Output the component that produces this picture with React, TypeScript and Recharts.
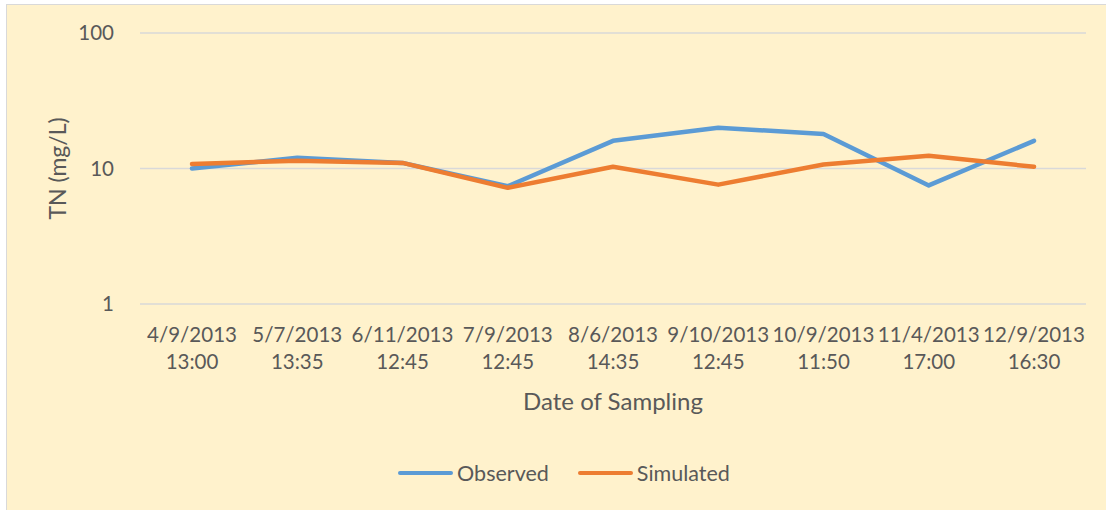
import { LineChart, Line, XAxis, YAxis, CartesianGrid, Label } from 'recharts';

const dates = ['4/9/2013', '5/7/2013', '6/11/2013', '7/9/2013', '8/6/2013', '9/10/2013', '10/9/2013', '11/4/2013', '12/9/2013'];
const times = ['13:00', '13:35', '12:45', '12:45', '14:35', '12:45', '11:50', '17:00', '16:30'];
const observed = [10.0, 12.0, 11.0, 7.4, 16.0, 20.0, 18.0, 7.5, 16.0];
const simulated = [10.8, 11.4, 11.0, 7.2, 10.3, 7.6, 10.7, 12.4, 10.3];
const yTicks = [1, 10, 100];

const BLUE = '#5B9BD5';
const ORANGE = '#ED7D31';
const TEXT = '#595959';
const FONT = 'Lato, "Open Sans", sans-serif';

const data = dates.map((d, i) => ({
  label: `${d}|${times[i]}`,
  observed: observed[i],
  simulated: simulated[i],
}));

function DateTick({ x, y, payload }: any) {
  const [d, t] = String(payload.value).split('|');
  return (
    <text x={x} y={y} textAnchor="middle" fill={TEXT} fontSize={20.5} fontFamily={FONT}>
      <tspan x={x} dy={30}>{d}</tspan>
      <tspan x={x} dy={27}>{t}</tspan>
    </text>
  );
}

function LegendRow() {
  const items = [
    { name: 'Observed', color: BLUE },
    { name: 'Simulated', color: ORANGE },
  ];
  return (
    <div style={{ position: 'absolute', top: 460, left: 0, width: 1128, display: 'flex', justifyContent: 'center', gap: 29, fontFamily: FONT, fontSize: 21.5, color: TEXT }}>
      {items.map((it) => (
        <div key={it.name} style={{ display: 'flex', alignItems: 'center' }}>
          <div style={{ width: 55, height: 4.5, borderRadius: 2, background: it.color, marginRight: 4 }} />
          <span>{it.name}</span>
        </div>
      ))}
    </div>
  );
}

export default function App() {
  return (
    <div style={{ position: 'absolute', left: 0, top: 0, width: 1106, height: 510, background: '#fff', overflow: 'hidden' }}>
      <div style={{ position: 'absolute', left: 6, top: 4, width: 1110, height: 520, background: '#FFF2CC', border: '1px solid #D9D9D9' }} />
      <div style={{ position: 'absolute', left: 0, top: 0 }}>
        <LineChart width={1106} height={510} data={data} margin={{ top: 33, right: 20, left: 0, bottom: 106 }}>
          <CartesianGrid vertical={false} stroke="#D9D9D9" strokeWidth={1.5} />
          <XAxis
            dataKey="label"
            axisLine={false}
            tickLine={false}
            interval={0}
            padding={{ left: 52, right: 52 }}
            height={100}
            tick={<DateTick />}
          >
            <Label value="Date of Sampling" position="insideBottom" offset={-6} fill={TEXT} fontSize={24} fontFamily={FONT} />
          </XAxis>
          <YAxis
            scale="log"
            domain={[1, 100]}
            ticks={yTicks}
            allowDataOverflow
            width={140}
            axisLine={false}
            tickLine={false}
            tick={{ fill: TEXT, fontSize: 20.5, fontFamily: FONT }}
            tickMargin={20}
          >
            <Label value="TN (mg/L)" angle={-90} position="insideLeft" offset={58} fill={TEXT} fontSize={23} fontFamily={FONT} style={{ textAnchor: 'middle' }} />
          </YAxis>
          <Line type="linear" dataKey="observed" stroke={BLUE} strokeWidth={4.5} dot={false} strokeLinecap="round" strokeLinejoin="round" isAnimationActive={false} />
          <Line type="linear" dataKey="simulated" stroke={ORANGE} strokeWidth={4.5} dot={false} strokeLinecap="round" strokeLinejoin="round" isAnimationActive={false} />
        </LineChart>
      </div>
      <LegendRow />
    </div>
  );
}
